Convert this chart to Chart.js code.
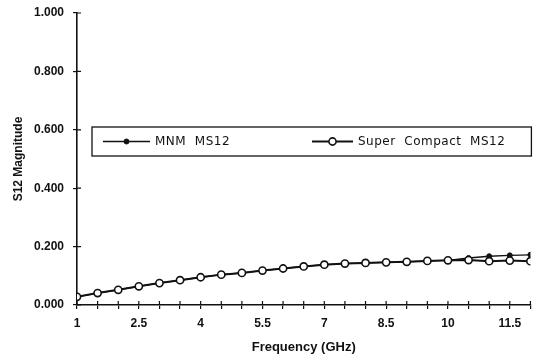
<!DOCTYPE html>
<html>
<head>
<meta charset="utf-8">
<script src="https://cdn.jsdelivr.net/npm/chart.js@4"></script>
<style>
  html, body { margin: 0; padding: 0; background: #fff; }
  #wrap { width: 536px; height: 361px; }
</style>
</head>
<body>
<div id="wrap"><canvas id="chart" width="536" height="361"></canvas></div>
<script>
// ── data ──
const freqs = [1, 1.5, 2, 2.5, 3, 3.5, 4, 4.5, 5, 5.5, 6, 6.5, 7, 7.5, 8, 8.5, 9, 9.5, 10, 10.5, 11, 11.5, 12];
const mnmMS12 = [0.028, 0.041, 0.052, 0.064, 0.075, 0.085, 0.095, 0.104, 0.110, 0.118, 0.125, 0.132,
  0.138, 0.142, 0.144, 0.146, 0.148, 0.151, 0.153, 0.161, 0.167, 0.170, 0.172];
const superCompactMS12 = [0.028, 0.041, 0.052, 0.064, 0.075, 0.085, 0.095, 0.104, 0.110, 0.118, 0.125, 0.132,
  0.138, 0.142, 0.144, 0.146, 0.148, 0.151, 0.153, 0.154, 0.150, 0.152, 0.150];
const xTickLabels = [1, 2.5, 4, 5.5, 7, 8.5, 10, 11.5];
const yTicks = [0, 0.2, 0.4, 0.6, 0.8, 1.0];

const INK = '#111';

// ticks cross the axis line (inner half drawn here)
const crossTicks = {
  id: 'crossTicks',
  afterDraw(chart) {
    const { ctx, scales: { x, y } } = chart;
    ctx.save();
    ctx.strokeStyle = INK;
    ctx.lineWidth = 1.2;
    ctx.beginPath();
    x.ticks.forEach(t => {
      const px = x.getPixelForValue(t.value);
      ctx.moveTo(px, x.top - 4);
      ctx.lineTo(px, x.top);
    });
    y.ticks.forEach(t => {
      const py = y.getPixelForValue(t.value);
      ctx.moveTo(y.right, py);
      ctx.lineTo(y.right + 4, py);
    });
    ctx.stroke();
    ctx.restore();
  }
};

// boxed legend inside the plot area
const boxLegend = {
  id: 'boxLegend',
  afterDraw(chart) {
    const { ctx, chartArea: ca } = chart;
    const left = ca.left + 15, right = ca.right + 1;
    const top = ca.top + 114, bottom = ca.top + 143;
    const cy = (top + bottom) / 2;
    ctx.save();
    ctx.fillStyle = '#fff';
    ctx.fillRect(left, top, right - left, bottom - top);
    ctx.strokeStyle = INK;
    ctx.lineWidth = 1.3;
    ctx.strokeRect(left, top, right - left, bottom - top);

    const items = [
      { ds: chart.data.datasets[0], x0: left + 11, x1: left + 58, tx: left + 63 },
      { ds: chart.data.datasets[1], x0: left + 220, x1: left + 261, tx: left + 266 }
    ];
    ctx.font = '12px "DejaVu Sans"';
    if ('letterSpacing' in ctx) ctx.letterSpacing = '0.5px';
    ctx.textBaseline = 'middle';
    items.forEach(it => {
      ctx.strokeStyle = INK;
      ctx.lineWidth = it.ds.borderWidth;
      ctx.beginPath();
      ctx.moveTo(it.x0, cy);
      ctx.lineTo(it.x1, cy);
      ctx.stroke();
      const mx = (it.x0 + it.x1) / 2;
      ctx.beginPath();
      ctx.arc(mx, cy, it.ds.pointRadius, 0, Math.PI * 2);
      ctx.fillStyle = it.ds.pointBackgroundColor;
      ctx.fill();
      ctx.lineWidth = it.ds.pointBorderWidth;
      ctx.stroke();
      ctx.fillStyle = INK;
      ctx.fillText(it.ds.label, it.tx, cy);
    });
    ctx.restore();
  }
};

new Chart(document.getElementById('chart'), {
  type: 'line',
  data: {
    datasets: [
      {
        label: 'MNM  MS12',
        data: freqs.map((f, i) => ({ x: f, y: mnmMS12[i] })),
        borderColor: INK,
        borderWidth: 1.3,
        pointRadius: 2.5,
        pointBorderWidth: 1,
        pointBackgroundColor: INK,
        pointBorderColor: INK,
        order: 2
      },
      {
        label: 'Super  Compact  MS12',
        data: freqs.map((f, i) => ({ x: f, y: superCompactMS12[i] })),
        borderColor: INK,
        borderWidth: 2,
        pointRadius: 3.6,
        pointBorderWidth: 1.6,
        pointBackgroundColor: '#fff',
        pointBorderColor: INK,
        order: 1
      }
    ]
  },
  options: {
    responsive: false,
    animation: false,
    layout: { padding: { top: 13, right: 5, left: 0, bottom: 0 } },
    plugins: { legend: { display: false }, tooltip: { enabled: false } },
    scales: {
      x: {
        type: 'linear',
        min: 1,
        max: 12,
        afterFit: s => { s.height = 56; s.paddingLeft = 0; s.paddingRight = 0; },
        afterBuildTicks: s => { s.ticks = freqs.map(v => ({ value: v })); },
        border: { display: true, color: INK, width: 1.6 },
        grid: { drawOnChartArea: false, drawTicks: true, tickLength: 4, color: INK, lineWidth: 1.2 },
        ticks: {
          autoSkip: false,
          maxRotation: 0,
          padding: 7,
          color: INK,
          font: { family: '"Liberation Sans"', size: 12, weight: 'bold' },
          callback: v => xTickLabels.includes(v) ? String(v) : ''
        },
        title: {
          display: true,
          text: 'Frequency (GHz)',
          color: INK,
          font: { family: '"Liberation Sans"', size: 13, weight: 'bold' },
          padding: { top: 0, bottom: 6 }
        }
      },
      y: {
        min: 0,
        max: 1,
        afterFit: s => { s.width = 77; s.paddingTop = 0; s.paddingBottom = 0; },
        afterBuildTicks: s => { s.ticks = yTicks.map(v => ({ value: v })); },
        border: { display: true, color: INK, width: 1.6 },
        grid: { drawOnChartArea: false, drawTicks: true, tickLength: 4, color: INK, lineWidth: 1.2 },
        ticks: {
          padding: 9,
          color: INK,
          font: { family: '"Liberation Sans"', size: 12, weight: 'bold' },
          callback: v => v.toFixed(3)
        },
        title: {
          display: true,
          text: 'S12 Magnitude',
          color: INK,
          font: { family: '"Liberation Sans"', size: 12, weight: 'bold' },
          padding: { top: 11, bottom: 0 }
        }
      }
    }
  },
  plugins: [crossTicks, boxLegend]
});
</script>
</body>
</html>
